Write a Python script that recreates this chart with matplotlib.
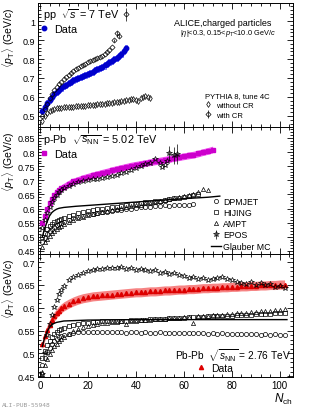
import matplotlib
matplotlib.use("Agg")
import matplotlib.pyplot as plt
from matplotlib.ticker import MultipleLocator, FormatStrFormatter

plt.rcParams["font.family"] = ["Liberation Sans", "DejaVu Sans"]
plt.rcParams["mathtext.fontset"] = "custom"
plt.rcParams["mathtext.rm"] = "Liberation Sans"
plt.rcParams["mathtext.it"] = "Liberation Sans:italic"
plt.rcParams["mathtext.bf"] = "Liberation Sans:bold"

# ---------------- pp, sqrt(s) = 7 TeV ----------------
n_pp = list(range(1, 37))
pp_data = [0.525, 0.548, 0.568, 0.586, 0.601, 0.614, 0.627, 0.638, 0.648, 0.657,
           0.665, 0.673, 0.680, 0.687, 0.693, 0.699, 0.705, 0.711, 0.717, 0.722,
           0.728, 0.734, 0.740, 0.746, 0.752, 0.758, 0.766, 0.774, 0.782, 0.790,
           0.798, 0.807, 0.817, 0.828, 0.840, 0.856]
pp_sys = 0.016

n_cr = list(range(1, 34)) + [36]
pp_with_cr = [0.500, 0.535, 0.565, 0.592, 0.615, 0.635, 0.652, 0.667, 0.681, 0.694,
              0.706, 0.717, 0.727, 0.736, 0.745, 0.753, 0.761, 0.768, 0.775, 0.782,
              0.788, 0.794, 0.800, 0.806, 0.812, 0.818, 0.826, 0.836, 0.848, 0.862,
              0.898, 0.935, 0.922, 1.035]
pp_with_cr_err = [0] * 30 + [0.008, 0.012, 0.012, 0.035]

n_nocr = list(range(1, 47))
pp_without_cr = [0.475, 0.500, 0.515, 0.525, 0.532, 0.537, 0.540, 0.542, 0.544, 0.545,
                 0.546, 0.547, 0.548, 0.549, 0.550, 0.551, 0.552, 0.553, 0.554, 0.556,
                 0.557, 0.558, 0.559, 0.561, 0.562, 0.563, 0.565, 0.566, 0.568, 0.570,
                 0.571, 0.573, 0.575, 0.577, 0.579, 0.582, 0.584, 0.587, 0.590, 0.583,
                 0.580, 0.597, 0.602, 0.606, 0.598, 0.592]

# ---------------- p-Pb, sqrt(sNN) = 5.02 TeV ----------------
n_low = list(range(1, 11))
n_ppb_data = n_low + list(range(12, 73, 2))
ppb_data = [0.548, 0.575, 0.598, 0.618, 0.634, 0.647, 0.657, 0.665, 0.672, 0.678,
            0.688, 0.696, 0.702, 0.708, 0.713, 0.718, 0.722, 0.727, 0.731, 0.736,
            0.740, 0.744, 0.748, 0.752, 0.755, 0.758, 0.761, 0.764, 0.767, 0.770,
            0.773, 0.776, 0.779, 0.782, 0.785, 0.788, 0.791, 0.795, 0.800, 0.804, 0.809]
ppb_sys = 0.012

n_ppb_hij = n_low + list(range(12, 67, 2))
ppb_hijing = [0.500, 0.515, 0.527, 0.537, 0.545, 0.551, 0.556, 0.560, 0.564, 0.567,
              0.573, 0.578, 0.583, 0.587, 0.591, 0.594, 0.597, 0.600, 0.602, 0.605,
              0.607, 0.610, 0.612, 0.615, 0.617, 0.619, 0.622, 0.624, 0.626, 0.628,
              0.631, 0.633, 0.636, 0.638, 0.641, 0.645, 0.649, 0.653]

n_ppb_ampt = n_low + list(range(12, 71, 2))
ppb_ampt = [0.465, 0.480, 0.493, 0.504, 0.513, 0.521, 0.528, 0.534, 0.539, 0.544,
            0.552, 0.559, 0.565, 0.571, 0.576, 0.580, 0.584, 0.588, 0.591, 0.595,
            0.598, 0.602, 0.605, 0.608, 0.611, 0.614, 0.618, 0.621, 0.624, 0.627,
            0.630, 0.634, 0.637, 0.640, 0.643, 0.648, 0.652, 0.660, 0.668, 0.664]

n_ppb_dpm = n_low + list(range(12, 65, 2))
ppb_dpmjet = [0.480, 0.497, 0.510, 0.520, 0.528, 0.535, 0.541, 0.546, 0.550, 0.554,
              0.561, 0.566, 0.571, 0.575, 0.579, 0.582, 0.585, 0.587, 0.589, 0.592,
              0.594, 0.596, 0.598, 0.600, 0.602, 0.604, 0.605, 0.607, 0.608, 0.609,
              0.611, 0.610, 0.612, 0.613, 0.611, 0.614, 0.616]

n_ppb_epos = n_low + list(range(12, 49, 2)) + [50, 51, 52, 53, 54, 56, 57]
ppb_epos = [0.530, 0.560, 0.585, 0.605, 0.622, 0.636, 0.648, 0.658, 0.666, 0.672,
            0.681, 0.688, 0.693, 0.697, 0.700, 0.703, 0.706, 0.709, 0.712, 0.716,
            0.720, 0.726, 0.731, 0.736, 0.742, 0.750, 0.757, 0.762, 0.776,
            0.760, 0.746, 0.753, 0.768, 0.796, 0.788, 0.792]
ppb_epos_err = [0] * 33 + [0.025, 0.03, 0.035]

n_ppb_glauber = [1, 2, 3, 4, 5, 6, 7, 8, 10, 15, 20, 30, 40, 50, 60, 70, 75]
ppb_glauber = [0.500, 0.530, 0.553, 0.574, 0.586, 0.593, 0.598, 0.601, 0.604, 0.608,
               0.611, 0.617, 0.623, 0.629, 0.635, 0.640, 0.644]

# ---------------- Pb-Pb, sqrt(sNN) = 2.76 TeV ----------------
n_pbpb = n_low + list(range(12, 103, 2))
pbpb_data = [0.520, 0.537, 0.551, 0.563, 0.573, 0.581, 0.588, 0.594, 0.599, 0.603,
             0.609, 0.614, 0.618, 0.621, 0.623, 0.625, 0.626, 0.627, 0.628, 0.629,
             0.630, 0.631, 0.632, 0.633, 0.634, 0.634, 0.635, 0.636, 0.636, 0.637,
             0.638, 0.638, 0.639, 0.640, 0.640, 0.641, 0.641, 0.642, 0.643, 0.643,
             0.644, 0.644, 0.645, 0.645, 0.646, 0.646, 0.647, 0.647, 0.648, 0.648,
             0.649, 0.649, 0.650, 0.650, 0.651, 0.651]
pbpb_sys = 0.010

pbpb_epos = [0.455, 0.500, 0.540, 0.565, 0.585, 0.602, 0.617, 0.630, 0.640, 0.648,
             0.660, 0.668, 0.673, 0.677, 0.680, 0.683, 0.685, 0.686, 0.687, 0.688,
             0.687, 0.690, 0.686, 0.688, 0.684, 0.686, 0.682, 0.680, 0.682, 0.677,
             0.679, 0.674, 0.676, 0.671, 0.669, 0.666, 0.668, 0.663, 0.665, 0.661,
             0.663, 0.666, 0.668, 0.664, 0.660, 0.657, 0.655, 0.652, 0.656, 0.651,
             0.654, 0.649, 0.652, 0.646, 0.648, 0.643]

pbpb_hijing = [0.490, 0.505, 0.518, 0.528, 0.536, 0.542, 0.547, 0.551, 0.554, 0.556,
               0.559, 0.562, 0.564, 0.566, 0.567, 0.568, 0.569, 0.570, 0.570, 0.571,
               0.571, 0.572, 0.572, 0.573, 0.573, 0.574, 0.574, 0.575, 0.575, 0.576,
               0.576, 0.577, 0.577, 0.578, 0.578, 0.579, 0.579, 0.580, 0.580, 0.581,
               0.581, 0.582, 0.582, 0.583, 0.583, 0.584, 0.584, 0.585, 0.585, 0.586,
               0.586, 0.587, 0.587, 0.588, 0.588, 0.589]

pbpb_ampt = [0.460, 0.475, 0.488, 0.498, 0.507, 0.515, 0.521, 0.527, 0.532, 0.536,
             0.543, 0.548, 0.553, 0.557, 0.560, 0.562, 0.564, 0.566, 0.567, 0.568,
             0.569, 0.570, 0.564, 0.571, 0.572, 0.573, 0.573, 0.574, 0.575, 0.575,
             0.576, 0.577, 0.578, 0.578, 0.579, 0.580, 0.566, 0.581, 0.582, 0.583,
             0.584, 0.584, 0.585, 0.586, 0.587, 0.588, 0.588, 0.589, 0.590, 0.591,
             0.592, 0.593, 0.594, 0.595, 0.596, 0.597]

pbpb_dpmjet = [0.475, 0.490, 0.502, 0.512, 0.520, 0.526, 0.531, 0.535, 0.538, 0.540,
               0.543, 0.545, 0.546, 0.547, 0.547, 0.547, 0.546, 0.547, 0.546, 0.546,
               0.547, 0.546, 0.545, 0.546, 0.546, 0.545, 0.546, 0.545, 0.545, 0.546,
               0.545, 0.544, 0.545, 0.544, 0.545, 0.544, 0.544, 0.545, 0.544, 0.543,
               0.544, 0.543, 0.544, 0.543, 0.543, 0.542, 0.543, 0.542, 0.543, 0.542,
               0.541, 0.542, 0.541, 0.542, 0.540, 0.541]

n_pbpb_glauber = [1, 2, 3, 4, 5, 6, 7, 8, 10, 15, 20, 40, 60, 80, 103]
pbpb_glauber = [0.515, 0.535, 0.548, 0.557, 0.563, 0.566, 0.568, 0.569, 0.571, 0.572,
                0.573, 0.574, 0.574, 0.574, 0.574]

YLABEL = r"$\langle p_{\rm T}\rangle$ (GeV/$c$)"
model_style = dict(linestyle="none", mfc="none", mec="black", color="black", mew=0.5)

fig = plt.figure(figsize=(3.1, 4.1), dpi=100)
left, width = 0.121, 0.824
ax_pp = fig.add_axes([left, 0.688, width, 0.302])
ax_ppb = fig.add_axes([left, 0.378, width, 0.310], sharex=ax_pp)
ax_pbpb = fig.add_axes([left, 0.078, width, 0.300], sharex=ax_pp)


def style_axis(ax, ylim, major, minor):
    ax.set_xlim(-1, 105.5)
    ax.set_ylim(*ylim)
    ax.xaxis.set_major_locator(MultipleLocator(20))
    ax.xaxis.set_minor_locator(MultipleLocator(4))
    ax.yaxis.set_major_locator(MultipleLocator(major))
    ax.yaxis.set_minor_locator(MultipleLocator(minor))
    ax.yaxis.set_major_formatter(FormatStrFormatter("%g"))
    ax.tick_params(which="both", direction="in", top=True, right=True, width=0.6)
    ax.tick_params(axis="y", labelsize=6.5, pad=1.5)
    ax.tick_params(axis="x", labelsize=7, pad=2.5)
    ax.tick_params(which="major", length=4)
    ax.tick_params(which="minor", length=2)
    for s in ax.spines.values():
        s.set_linewidth(0.7)
    ax.set_ylabel(YLABEL, fontsize=7.5, loc="top")
    ax.yaxis.set_label_coords(-0.079, 0.97)


# ---- pp panel
ax = ax_pp
ax.bar(n_pp, [2 * pp_sys] * len(n_pp), bottom=[v - pp_sys for v in pp_data], width=0.9,
       fill=False, edgecolor="#4d4dff", linewidth=0.5)
data_pp, = ax.plot(n_pp, pp_data, "o", color="#0000cc", ms=3.2, label="Data")
nocr, = ax.plot(n_nocr, pp_without_cr, marker="d", ms=3, label="without CR", **model_style)
cr = ax.errorbar(n_cr, pp_with_cr, yerr=pp_with_cr_err, marker="D", ms=2.6, elinewidth=0.5,
                 label="with CR", **model_style)
style_axis(ax, (0.442, 1.095), 0.1, 0.02)
ax.text(0.022, 0.91, r"pp  $\sqrt{s}$ = 7 TeV", transform=ax.transAxes, fontsize=7.8, va="center")
leg = ax.legend(handles=[data_pp], loc="upper left", bbox_to_anchor=(0.01, 0.83), frameon=False,
                fontsize=7.8, handlelength=0.8, handletextpad=0.5, borderpad=0, borderaxespad=0)
ax.add_artist(leg)
ax.text(0.724, 0.847, "ALICE,charged particles", transform=ax.transAxes, fontsize=6.5,
        ha="center", va="center")
ax.text(0.746, 0.764, r"|$\eta$|<0.3, 0.15<$p_{\rm T}$<10.0 GeV/$c$", transform=ax.transAxes,
        fontsize=5.3, ha="center", va="center")
ax.legend(handles=[nocr, cr], title="PYTHIA 8, tune 4C", loc="upper left",
          bbox_to_anchor=(0.655, 0.28), frameon=False, fontsize=5.5, title_fontsize=5.5,
          alignment="left", handlelength=0.8, handletextpad=0.6, labelspacing=0.3,
          borderpad=0, borderaxespad=0)
plt.setp(ax.get_xticklabels(), visible=False)

# ---- p-Pb panel
ax = ax_ppb
ax.fill_between(n_ppb_data, [v - ppb_sys for v in ppb_data], [v + ppb_sys for v in ppb_data],
                color="#f040f0", lw=0, alpha=0.9)
data_ppb, = ax.plot(n_ppb_data, ppb_data, "s", color="#cc00cc", ms=2.6, label="Data")
dpm, = ax.plot(n_ppb_dpm, ppb_dpmjet, marker="o", ms=3, label="DPMJET", **model_style)
hij, = ax.plot(n_ppb_hij, ppb_hijing, marker="s", ms=3, label="HIJING", **model_style)
ampt, = ax.plot(n_ppb_ampt, ppb_ampt, marker="^", ms=3, label="AMPT", **model_style)
epos = ax.errorbar(n_ppb_epos, ppb_epos, yerr=ppb_epos_err, marker="*", ms=4, elinewidth=0.5,
                   label="EPOS", **model_style)
glb, = ax.plot(n_ppb_glauber, ppb_glauber, "-", color="black", lw=1.0, label="Glauber MC")
style_axis(ax, (0.439, 0.889), 0.05, 0.01)
ax.text(0.022, 0.905, r"p-Pb  $\sqrt{s_{\rm NN}}$ = 5.02 TeV", transform=ax.transAxes,
        fontsize=7.8, va="center")
leg = ax.legend(handles=[data_ppb], loc="upper left", bbox_to_anchor=(0.01, 0.83), frameon=False,
                fontsize=7.8, handlelength=0.8, handletextpad=0.5, borderpad=0, borderaxespad=0)
ax.add_artist(leg)
ax.legend(handles=[dpm, hij, ampt, epos, glb], loc="upper left", bbox_to_anchor=(0.68, 0.45),
          frameon=False, fontsize=6.3, handlelength=1.1, handletextpad=0.3, labelspacing=0.25,
          borderpad=0, borderaxespad=0)
plt.setp(ax.get_xticklabels(), visible=False)

# ---- Pb-Pb panel
ax = ax_pbpb
ax.fill_between(n_pbpb, [v - pbpb_sys for v in pbpb_data], [v + pbpb_sys for v in pbpb_data],
                color="#f03030", lw=0, alpha=0.6)
data_pbpb, = ax.plot(n_pbpb, pbpb_data, "^", color="#dd0000", ms=3, label="Data")
ax.plot(n_pbpb, pbpb_dpmjet, marker="o", ms=3, **model_style)
ax.plot(n_pbpb, pbpb_hijing, marker="s", ms=3, **model_style)
ax.plot(n_pbpb, pbpb_ampt, marker="^", ms=3, **model_style)
ax.plot(n_pbpb, pbpb_epos, marker="*", ms=4, **model_style)
ax.plot(n_pbpb_glauber, pbpb_glauber, "-", color="black", lw=1.0)
style_axis(ax, (0.448, 0.718), 0.05, 0.01)
ax.text(0.765, 0.18, r"Pb-Pb  $\sqrt{s_{\rm NN}}$ = 2.76 TeV", transform=ax.transAxes,
        fontsize=7.3, ha="center", va="center")
ax.legend(handles=[data_pbpb], loc="upper left", bbox_to_anchor=(0.625, 0.115), frameon=False,
          fontsize=7.5, handlelength=0.8, handletextpad=0.5, borderpad=0, borderaxespad=0)
ax.set_xlabel(r"$N_{\rm ch}$", fontsize=8.5, loc="right")
ax.xaxis.set_label_coords(1.0, -0.11)

fig.text(0.005, 0.008, "ALI-PUB-55948", fontsize=4.5, color="#999999", family="DejaVu Sans Mono")

fig.savefig("out.png", dpi=100)
